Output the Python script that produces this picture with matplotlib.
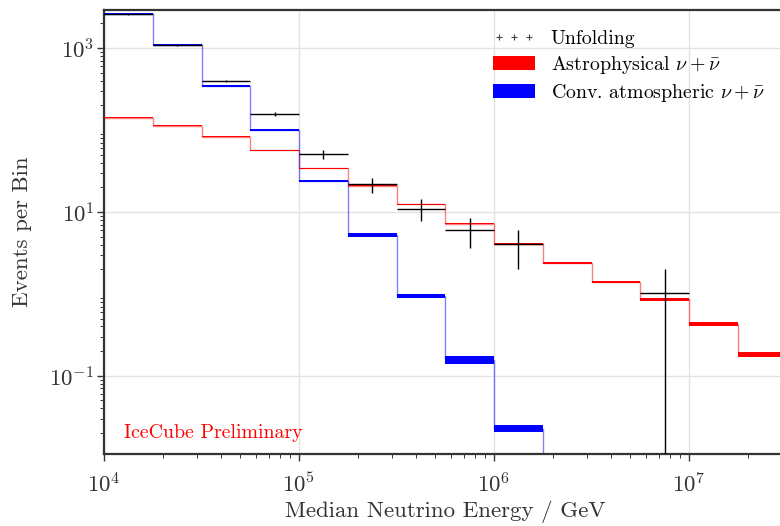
import numpy as np
import matplotlib
matplotlib.use("Agg")
import matplotlib.pyplot as plt
from matplotlib.lines import Line2D
from matplotlib.patches import Patch

plt.rcParams['font.family'] = 'serif'
plt.rcParams['font.serif'] = ['cmr10']
plt.rcParams['mathtext.fontset'] = 'cm'
plt.rcParams['axes.formatter.use_mathtext'] = True
plt.rcParams['axes.unicode_minus'] = False

# Bin edges (log10 GeV)
log_edges = [4.0, 4.25, 4.5, 4.75, 5.0, 5.25, 5.5, 5.75, 6.0, 6.25, 6.5, 6.75, 7.0, 7.25, 7.5]

# Conventional atmospheric (band lower/upper)
atm_lo = [2530, 1060, 334, 97.2, 22.9, 4.9, 0.90, 0.141, 0.0204, 0.003, 0.0008, 0.0002, 0.00005, 0.00001]
atm_hi = [2670, 1120, 352, 103.0, 24.3, 5.5, 1.00, 0.172, 0.0248, 0.0035, 0.0009, 0.00025, 0.00006, 0.000012]

# Astrophysical (band lower/upper)
astro_lo = [141, 112, 82.3, 56.0, 33.7, 20.5, 12.2, 7.05, 3.95, 2.33, 1.35, 0.82, 0.40, 0.170]
astro_hi = [143, 114, 83.7, 57.0, 34.3, 21.1, 12.6, 7.35, 4.17, 2.43, 1.43, 0.89, 0.45, 0.195]

# Unfolding points: bin index, value, lower, upper
unf_bins = [0, 1, 2, 3, 4, 5, 6, 7, 8, 11]
unf_val = [2600, 1090, 395, 157, 50.5, 22.2, 11.0, 6.08, 4.06, 1.02]
unf_lo = [2560, 1075, 384, 148, 43.9, 17.2, 7.76, 3.6, 2.02, 0.001]
unf_hi = [2640, 1105, 406, 166, 57.0, 26.3, 14.3, 8.52, 6.08, 2.01]

edges = 10 ** np.array(log_edges)

fig = plt.figure(figsize=(7.8, 5.26), dpi=100)
ax = fig.add_axes([104 / 780, 1 - 454 / 526, (786.5 - 104) / 780, (454 - 10) / 526])

def draw_band(lo, hi, color):
    lo = np.array(lo); hi = np.array(hi)
    mid = np.sqrt(lo * hi)
    ax.stairs(mid, edges, color=color, alpha=0.5, lw=1.0, baseline=None, zorder=2)
    for i in range(len(lo)):
        ax.fill_between([edges[i], edges[i + 1]], [lo[i]] * 2, [hi[i]] * 2,
                        color=color, lw=0, zorder=3)

draw_band(astro_lo, astro_hi, 'red')
draw_band(atm_lo, atm_hi, 'blue')

ub = np.array(unf_bins)
xl = edges[ub]; xh = edges[ub + 1]
xc = np.sqrt(xl * xh)
uv = np.array(unf_val)
ax.errorbar(xc, uv, xerr=[xc - xl, xh - xc],
            yerr=[uv - np.array(unf_lo), np.array(unf_hi) - uv],
            fmt='none', ecolor='black', elinewidth=1.0, capsize=0, zorder=4)

ax.set_xscale('log')
ax.set_yscale('log')
ax.set_xlim(1e4, 10 ** 7.5)
ax.set_ylim(0.0111, 10 ** 3.465)

ax.set_yticks([1e-1, 1e1, 1e3])
ax.grid(True, which='major', color='#e3e3e3', lw=1.0, zorder=0)
ax.set_axisbelow(True)

for s in ['left', 'bottom', 'top', 'right']:
    ax.spines[s].set_color('#333333')
    ax.spines[s].set_linewidth(1.6)
ax.tick_params(which='major', direction='out', length=5, width=1.0, color='#333333',
               labelsize=16.5, labelcolor='#333333')
ax.tick_params(axis='x', which='major', pad=8)
ax.tick_params(axis='y', which='major', pad=2)
ax.tick_params(which='minor', direction='out', length=3, width=0.7, color='#333333')

ax.set_xlabel('Median Neutrino Energy / GeV', fontsize=16.5, color='#333333', labelpad=3)
ax.set_ylabel('Events per Bin', fontsize=16.5, color='#333333', labelpad=12)

ax.text(0.03, 0.027, 'IceCube Preliminary', transform=ax.transAxes, color='red',
        fontsize=14.3, ha='left', va='bottom')

handles = [Line2D([], [], marker='+', ls='none', color='#444444', markersize=5, mew=0.8),
           Patch(facecolor='red', edgecolor='none'),
           Patch(facecolor='blue', edgecolor='none')]
labels = ['Unfolding', r'Astrophysical $\nu+\bar{\nu}$', r'Conv. atmospheric $\nu+\bar{\nu}$']
ax.legend(handles, labels, loc='upper left', bbox_to_anchor=((493 - 104) / 682.5, 1 - 20 / 444),
          frameon=False, fontsize=14.3, numpoints=3, handlelength=2.1, handletextpad=0.8,
          labelspacing=0.3, borderaxespad=0, borderpad=0)

fig.savefig('out.png', dpi=100)
